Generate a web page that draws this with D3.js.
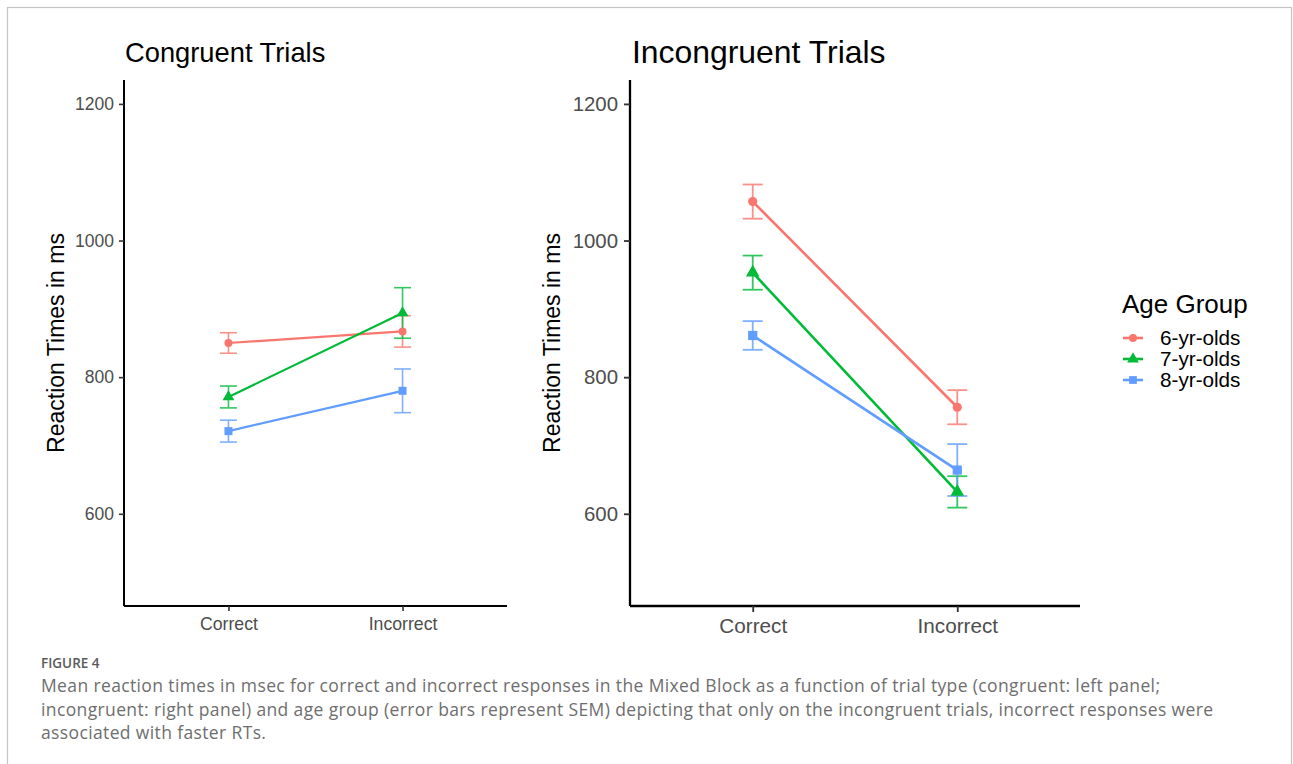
<!DOCTYPE html>
<html>
<head>
<meta charset="utf-8">
<script src="https://cdn.jsdelivr.net/npm/d3@7"></script>
<style>
	body { margin: 0; background: #fff; }
	svg { display: block; }
</style>
</head>
<body>
<div id="chart"></div>
<script>
const categories = ["Correct", "Incorrect"]
const groups = ["6-yr-olds", "7-yr-olds", "8-yr-olds"]
const groupColors = ["#F8766D", "#00BA38", "#619CFF"]
const yTicks = [600, 800, 1000, 1200]

// means and SEM per age group, [Correct, Incorrect]
const congruentMeans = [[850, 867], [771, 894], [721, 780]]
const congruentSem = [[15, 23], [16, 37], [16, 32]]
const incongruentMeans = [[1057, 756], [953, 632], [861, 664]]
const incongruentSem = [[25, 25], [25, 23], [21, 38]]

const captionHead = "FIGURE 4"
const captionLines = [
	"Mean reaction times in msec for correct and incorrect responses in the Mixed Block as a function of trial type (congruent: left panel;",
	"incongruent: right panel) and age group (error bars represent SEM) depicting that only on the incongruent trials, incorrect responses were",
	"associated with faster RTs."
]

const shapes = [d3.symbolCircle, d3.symbolTriangle, d3.symbolSquare]
const FONT = "'Liberation Sans', Arial, Helvetica, sans-serif"

const svg = d3.select("#chart").append("svg").attr("width", 1293).attr("height", 764)

svg.append("rect").attr("x", 7.5).attr("y", 7.5).attr("width", 1284).attr("height", 820)
	.style("fill", "#fff").style("stroke", "#c4c4c4").style("stroke-width", 1.2)

const drawPanel = (p, means, sems) => {
	const xs = d3.scalePoint().domain(categories).range(p.xRange).padding(0.6)
	const ys = d3.scaleLinear().domain([465, 1235]).range([606, 80])
	const g = svg.append("g")

	g.append("text").attr("x", p.titleX).attr("y", p.titleY)
		.style("font-family", FONT).style("font-size", p.titleSize + "px").style("fill", "#000")
		.text(p.title)

	//error bars first, then lines, then points on top
	groups.forEach((grp, gi) => {
		const rows = categories.map((c, ci) => ({ cat: c, v: means[gi][ci], se: sems[gi][ci] }))
		const eb = g.append("g").style("stroke", groupColors[gi]).style("stroke-width", p.ebWidth).style("opacity", 0.8)
		rows.forEach(d => {
			const cx = xs(d.cat)
			eb.append("line").attr("x1", cx).attr("x2", cx).attr("y1", ys(d.v - d.se)).attr("y2", ys(d.v + d.se))
			eb.append("line").attr("x1", cx - p.cap).attr("x2", cx + p.cap).attr("y1", ys(d.v - d.se)).attr("y2", ys(d.v - d.se))
			eb.append("line").attr("x1", cx - p.cap).attr("x2", cx + p.cap).attr("y1", ys(d.v + d.se)).attr("y2", ys(d.v + d.se))
		})
	})

	groups.forEach((grp, gi) => {
		const rows = categories.map((c, ci) => ({ cat: c, v: means[gi][ci] }))
		g.append("path").datum(rows)
			.attr("d", d3.line().x(d => xs(d.cat)).y(d => ys(d.v)))
			.style("fill", "none").style("stroke", groupColors[gi]).style("stroke-width", p.lineWidth)
		g.selectAll(null).data(rows).enter().append("path")
			.attr("transform", d => `translate(${xs(d.cat)},${ys(d.v)})`)
			.attr("d", d3.symbol().type(shapes[gi]).size(p.symSizes[gi]))
			.style("fill", groupColors[gi])
	})

	//axes
	const yAxis = g.append("g").attr("transform", `translate(${p.xRange[0]},0)`)
		.call(d3.axisLeft(ys).tickValues(yTicks).tickFormat(d3.format("d"))
			.tickSize(p.tick).tickPadding(p.pad).tickSizeOuter(0))
	yAxis.select(".domain").attr("d", `M0,${ys.range()[0]}V${ys.range()[1]}`)
	const xAxis = g.append("g").attr("transform", `translate(0,${ys.range()[0]})`)
		.call(d3.axisBottom(xs).tickSize(p.tick).tickPadding(p.xPad).tickSizeOuter(0))
	xAxis.select(".domain").attr("d", `M${p.xRange[0]},0H${p.xRange[1]}`)

	g.selectAll(".domain").style("stroke", "#000").style("stroke-width", p.axisWidth)
	g.selectAll(".tick line").style("stroke", "#333").style("stroke-width", p.axisWidth * 0.8)
	g.selectAll(".tick text").style("font-family", FONT).style("fill", "#4D4D4D")
	yAxis.selectAll(".tick text").style("font-size", p.tickSize + "px")
	xAxis.selectAll(".tick text").style("font-size", p.xTickSize + "px")

	g.append("text")
		.attr("transform", `translate(${p.yTitleX},${(ys.range()[0] + ys.range()[1]) / 2}) rotate(-90)`)
		.attr("text-anchor", "middle")
		.style("font-family", FONT).style("font-size", "23px").style("fill", "#000")
		.text("Reaction Times in ms")
}

drawPanel({
	title: "Congruent Trials", titleX: 125, titleY: 62, titleSize: 27.3,
	xRange: [124, 507], tick: 5, pad: 5, xPad: 6, axisWidth: 2,
	tickSize: 17.5, xTickSize: 17.7, yTitleX: 64,
	lineWidth: 2.2, ebWidth: 1.6, cap: 8.5, symSizes: [50, 60, 64]
}, congruentMeans, congruentSem)

drawPanel({
	title: "Incongruent Trials", titleX: 632, titleY: 63, titleSize: 31.9,
	xRange: [630, 1080], tick: 6, pad: 6, xPad: 6, axisWidth: 2.3,
	tickSize: 20.4, xTickSize: 20.7, yTitleX: 560,
	lineWidth: 2.6, ebWidth: 1.8, cap: 10, symSizes: [66, 80, 85]
}, incongruentMeans, incongruentSem)

//legend
const legend = svg.append("g")
legend.append("text").attr("x", 1122).attr("y", 313)
	.style("font-family", FONT).style("font-size", "26px").style("fill", "#000")
	.text("Age Group")
const rowY = d3.scalePoint().domain(groups).range([338, 380])
groups.forEach((grp, gi) => {
	const cy = rowY(grp)
	legend.append("line").attr("x1", 1123).attr("x2", 1143).attr("y1", cy).attr("y2", cy)
		.style("stroke", groupColors[gi]).style("stroke-width", 2.6)
	legend.append("path").attr("transform", `translate(1133,${cy})`)
		.attr("d", d3.symbol().type(shapes[gi]).size([50, 60, 60][gi]))
		.style("fill", groupColors[gi])
	legend.append("text").attr("x", 1160).attr("y", cy).attr("dy", "0.36em")
		.style("font-family", FONT).style("font-size", "20.7px").style("fill", "#000")
		.text(grp)
})

//caption
svg.append("text").attr("x", 41).attr("y", 668)
	.style("font-family", "'Open Sans', Lato, sans-serif").style("font-size", "13.5px")
	.style("font-weight", 600).style("fill", "#5a5a5a")
	.text(captionHead)
const caption = svg.selectAll(".caption").data(captionLines).enter().append("text")
	.attr("class", "caption")
	.attr("x", 41).attr("y", (d, i) => 692 + i * 23.5)
	.style("font-family", "'Open Sans', Lato, sans-serif").style("font-size", "17.5px")
	.style("fill", "#6e6e6e")
	.text(d => d)
//widen letter spacing so the first line ends where the reference's does
const firstLine = caption.node()
const spacing = (1119 - firstLine.getComputedTextLength()) / (captionLines[0].length - 1)
caption.style("letter-spacing", spacing + "px")
</script>
</body>
</html>
